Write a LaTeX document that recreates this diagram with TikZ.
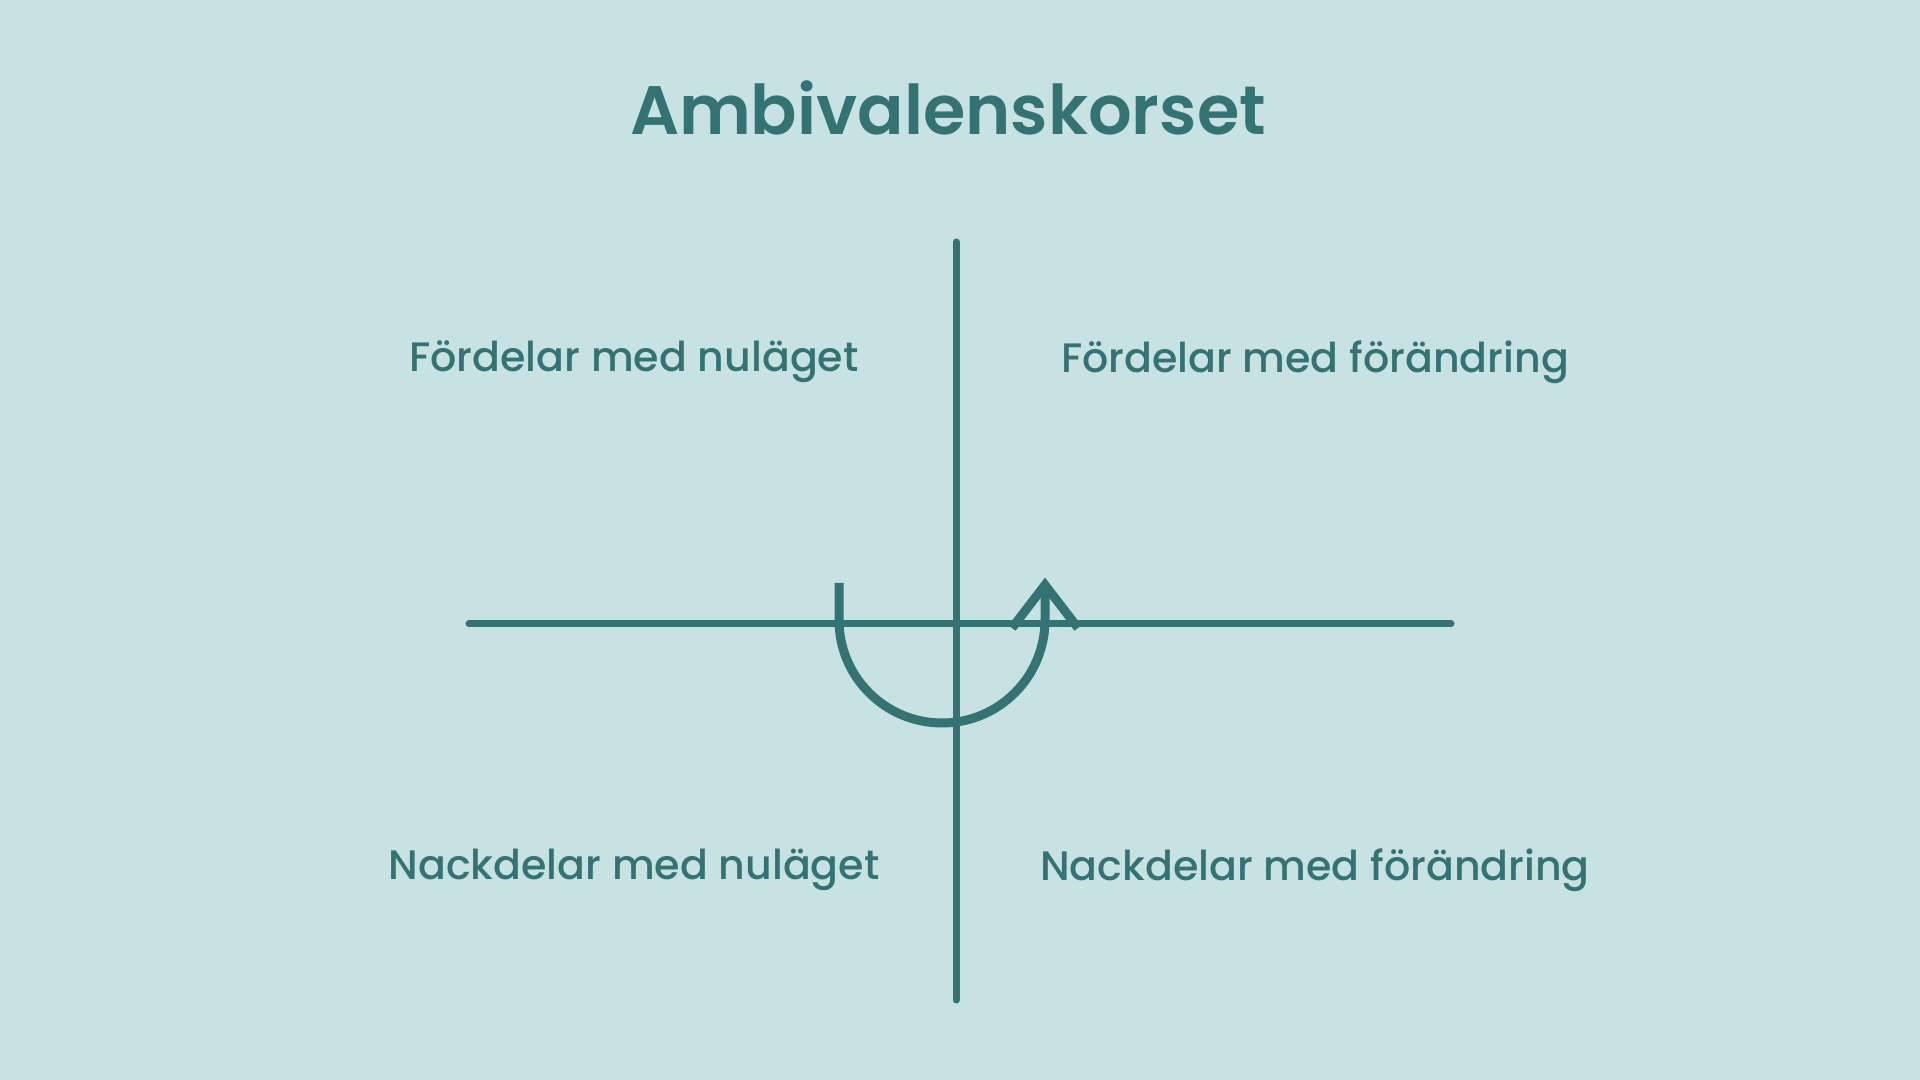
\documentclass[tikz,border=0pt]{standalone}
\usepackage{fontspec}
\setmainfont{Poppins}
\newfontfamily\titlefont{Poppins}[UprightFont=* SemiBold]
\newfontfamily\labelfont{Poppins}[UprightFont=* Medium]
\usetikzlibrary{positioning}
\usetikzlibrary{calc}
\definecolor{bgcol}{RGB}{200,226,227}
\definecolor{teal}{RGB}{52,115,116}

\begin{document}
\begin{tikzpicture}
 [ x=0.01cm
 , y=-0.01cm
 , axis/.style={line width=0.07cm, line cap=round, color=teal}
 , turn/.style={line width=0.09cm, color=teal}
 , quadrant/.style={color=teal, font=\labelfont\fontsize{11.7}{14}\selectfont}
 , heading/.style={color=teal, font=\titlefont\fontsize{19.5}{24}\selectfont}
 ]
  \fill [bgcol] (0,0) rectangle (1920,1080);
  \useasboundingbox (0,0) rectangle (1920,1080);

  \node [heading] (title) at (948,108) {Ambivalenskorset};

  % the cross
  \coordinate (west)  at (469,624);
  \coordinate (east)  at (1451,624);
  \coordinate (north) at (956,242);
  \coordinate (south) at (956,1000);
  \draw [axis] (west) -- (east);
  \draw [axis] (north) -- (south);

  % quadrants
  \node [quadrant] (prosnow)    at (634,362)  {Fördelar med nuläget};
  \node [quadrant] (proschange) at (1315,362) {Fördelar med förändring};
  \node [quadrant] (consnow)    at (634,870)  {Nackdelar med nuläget};
  \node [quadrant] (conschange) at (1315,870) {Nackdelar med förändring};

  % turning arrow
  \coordinate (start) at (839,583);
  \coordinate (tip)   at (1045,585);
  \coordinate (wingl) at (1012,628);
  \coordinate (wingr) at (1078,628);
  \draw [turn] (start) -- ++(0,37) arc [start angle=180, end angle=0, radius=103] -- (tip);
  \draw [turn, line join=miter] (wingl) -- (tip) -- (wingr);
\end{tikzpicture}
\end{document}
